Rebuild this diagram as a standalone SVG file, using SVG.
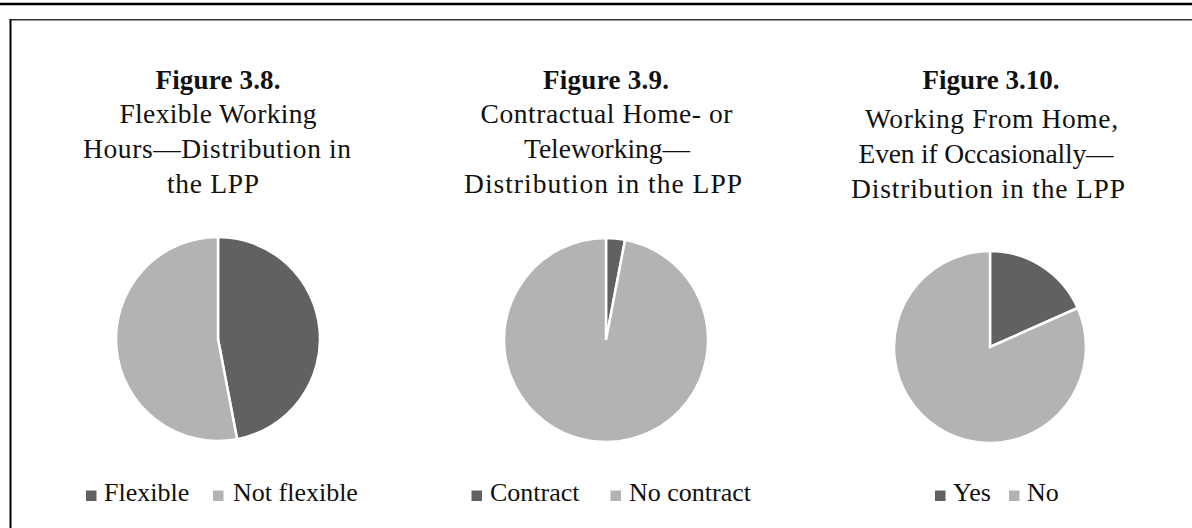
<svg xmlns="http://www.w3.org/2000/svg" width="1192" height="528" viewBox="0 0 1192 528">
<style>
text{font-family:"Liberation Serif","Times New Roman",serif;fill:#111;text-anchor:middle}
.t{font-size:27.5px}
.b{font-size:27px;font-weight:bold}
.l{font-size:26px;text-anchor:start}
.dk{fill:#616161}
.lt{fill:#b3b3b3}
.s{stroke:#fff;stroke-width:2.5;stroke-linejoin:miter}
</style>
<rect x="0" y="0" width="1192" height="528" fill="#fff"/>
<g id="frame">
<line x1="0" y1="4" x2="1192" y2="4" stroke="#000" stroke-width="2.5"/>
<line x1="10" y1="19.8" x2="1192" y2="19.8" stroke="#333" stroke-width="1.5"/>
<line x1="10.5" y1="19" x2="10.5" y2="528" stroke="#000" stroke-width="2"/>
</g>
<g id="fig38">
<text class="b" x="218" y="89" textLength="125" lengthAdjust="spacing">Figure 3.8.</text>
<text class="t" x="218" y="123" textLength="197" lengthAdjust="spacing">Flexible Working</text>
<text class="t" x="217" y="158" textLength="268" lengthAdjust="spacing">Hours—Distribution in</text>
<text class="t" x="213" y="193" textLength="92" lengthAdjust="spacing">the LPP</text>
<path class="dk s" d="M218,339 L218,237 A102,102 0 0 1 237.1,439.2 Z"/>
<path class="lt s" d="M218,339 L237.1,439.2 A102,102 0 1 1 218,237 Z"/>
<rect class="dk" x="86" y="490.5" width="10.5" height="10.5"/>
<text class="l" x="104" y="500.5">Flexible</text>
<rect class="lt" x="213" y="490.5" width="10.5" height="10.5"/>
<text class="l" x="233" y="500.5">Not flexible</text>
</g>
<g id="fig39">
<text class="b" x="606" y="88.5" textLength="126" lengthAdjust="spacing">Figure 3.9.</text>
<text class="t" x="606.5" y="123" textLength="252" lengthAdjust="spacing">Contractual Home- or</text>
<text class="t" x="607" y="158" textLength="166" lengthAdjust="spacing">Teleworking—</text>
<text class="t" x="603" y="193" textLength="278" lengthAdjust="spacing">Distribution in the LPP</text>
<path class="dk s" d="M606,340 L606,238 A102,102 0 0 1 625.1,239.8 Z"/>
<path class="lt s" d="M606,340 L625.1,239.8 A102,102 0 1 1 606,238 Z"/>
<rect class="dk" x="471.5" y="490.5" width="10.5" height="10.5"/>
<text class="l" x="490" y="500.5">Contract</text>
<rect class="lt" x="610.5" y="490.5" width="10.5" height="10.5"/>
<text class="l" x="629" y="500.5">No contract</text>
</g>
<g id="fig310">
<text class="b" x="991" y="89" textLength="137" lengthAdjust="spacing">Figure 3.10.</text>
<text class="t" x="991.5" y="128" textLength="253" lengthAdjust="spacing">Working From Home,</text>
<text class="t" x="986" y="163" textLength="255" lengthAdjust="spacing">Even if Occasionally—</text>
<text class="t" x="988" y="198" textLength="274" lengthAdjust="spacing">Distribution in the LPP</text>
<path class="dk s" d="M990,347 L990,251 A96,96 0 0 1 1077.7,308 Z"/>
<path class="lt s" d="M990,347 L1077.7,308 A96,96 0 1 1 990,251 Z"/>
<rect class="dk" x="935" y="490.5" width="10.5" height="10.5"/>
<text class="l" x="953" y="500.5">Yes</text>
<rect class="lt" x="1009" y="490.5" width="10.5" height="10.5"/>
<text class="l" x="1027" y="500.5">No</text>
</g>
</svg>
